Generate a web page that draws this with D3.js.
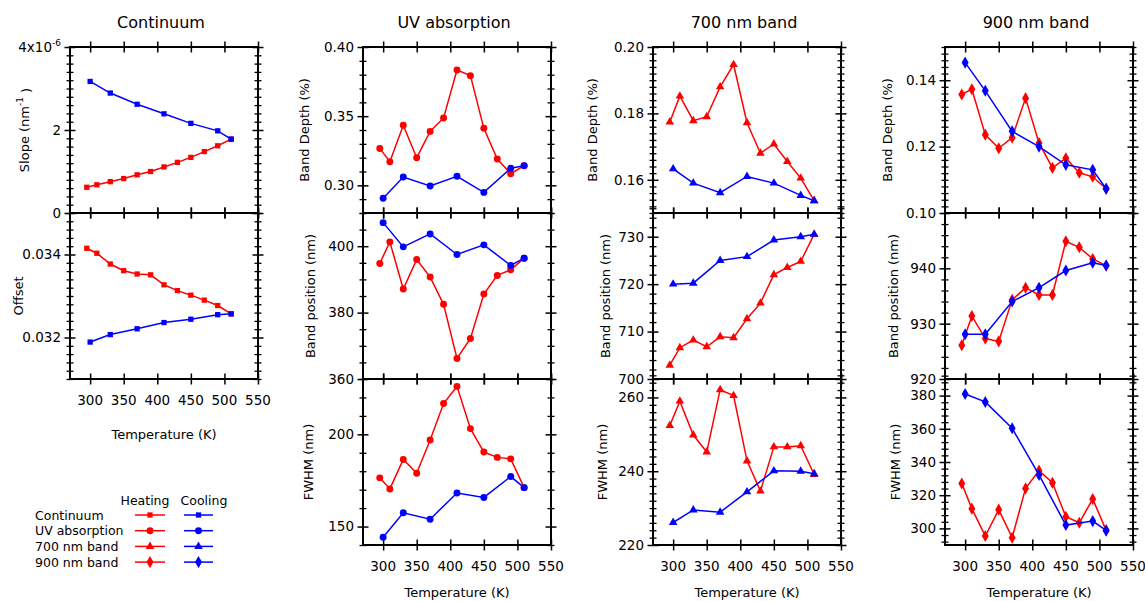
<!DOCTYPE html>
<html><head><meta charset="utf-8">
<script src="https://cdn.jsdelivr.net/npm/d3@7"></script>
<style>
body{margin:0;background:#fff;}
svg{display:block;font-family:"DejaVu Sans",Verdana,sans-serif;}
</style></head>
<body><svg id="c" width="1145" height="601"></svg>
<script>
// ---------------- DATA ----------------
const tempHeat = [295,310,330,350,370,390,410,430,450,470,490,510];
const tempCool = [300,330,370,410,450,490,510];
const xTicks = [300,350,400,450,500,550];

const contSlopeHeat = [0.62e-6,0.68e-6,0.755e-6,0.83e-6,0.92e-6,1.00e-6,1.11e-6,1.22e-6,1.34e-6,1.48e-6,1.62e-6,1.78e-6];
const contSlopeCool = [3.17e-6,2.89e-6,2.62e-6,2.39e-6,2.16e-6,1.98e-6,1.78e-6];
const contOffsetHeat = [0.03415,0.03403,0.03377,0.03361,0.03353,0.03351,0.03327,0.03313,0.03302,0.03290,0.03277,0.03257];
const contOffsetCool = [0.03189,0.03207,0.03221,0.03236,0.03244,0.03255,0.03257];

const uvDepthHeat = [0.3267,0.3171,0.3434,0.3200,0.3390,0.3487,0.3834,0.3793,0.3412,0.3190,0.3084,0.3142];
const uvDepthCool = [0.2906,0.3060,0.2995,0.3065,0.2949,0.3123,0.3142];
const uvPosHeat = [394.8,401.3,387.1,396.0,390.7,382.5,366.2,372.2,385.6,391.2,392.9,396.4];
const uvPosCool = [407.1,399.8,403.7,397.5,400.4,394.2,396.4];
const uvFwhmHeat = [176.4,170.4,186.4,178.9,196.9,216.7,226.0,203.1,190.4,187.5,186.7,171.1];
const uvFwhmCool = [144.2,157.5,154.0,168.2,165.8,177.1,171.1];

const b700DepthHeat = [0.1774,0.1852,0.1778,0.1790,0.1880,0.1947,0.1772,0.1680,0.1708,0.1655,0.1605,0.1537];
const b700DepthCool = [0.1633,0.1590,0.1561,0.1610,0.1590,0.1553,0.1537];
const b700PosHeat = [702.9,706.6,708.2,706.8,708.9,708.7,712.7,716.0,722.0,723.5,724.8,730.5];
const b700PosCool = [720.0,720.2,725.0,725.8,729.3,730.0,730.5];
const b700FwhmHeat = [252.4,259.0,249.8,245.2,262.1,260.5,242.8,234.6,246.6,246.6,246.9,239.1];
const b700FwhmCool = [226.1,229.5,228.9,234.4,240.1,240.0,239.3];

const b900DepthHeat = [0.1357,0.1373,0.1236,0.1195,0.1227,0.1346,0.1211,0.1136,0.1165,0.1121,0.1109,0.1073];
const b900DepthCool = [0.1453,0.1368,0.1246,0.1200,0.1145,0.1130,0.1073];
const b900PosHeat = [926.1,931.4,927.3,926.8,934.3,936.5,935.2,935.2,944.9,943.8,941.7,940.5];
const b900PosCool = [928.1,928.1,934.0,936.5,939.6,941.0,940.5];
const b900FwhmHeat = [327.1,311.9,295.4,311.3,294.4,324.1,334.8,327.5,307.0,303.4,317.7,298.8];
const b900FwhmCool = [381.0,376.2,360.3,332.2,302.0,304.4,298.8];

const colTitles = ["Continuum","UV absorption","700 nm band","900 nm band"];
const legendRows = ["Continuum","UV absorption","700 nm band","900 nm band"];
const legendHeads = ["Heating","Cooling"];

// ---------------- LAYOUT ----------------
const svg = d3.select("#c");
const colX = [70, 363, 653, 945];
const rowY = [47, 213, 379];
const PW = 188, PH = 166;
const RED = "#ff0000", BLUE = "#0000ff";
const shapes = ["square","circle","triangle","diamond"];
const TFS = 13.5;

function markerPath(shape){
  if(shape==="square") return d3.symbol(d3.symbolSquare, 28)();
  if(shape==="circle") return d3.symbol(d3.symbolCircle, 38)();
  if(shape==="triangle") return d3.symbol(d3.symbolTriangle, 32)();
  return d3.symbol(d3.symbolDiamond, 42)();
}

const panels = [
  {col:0,row:0,heat:contSlopeHeat,cool:contSlopeCool,dom:[0,4e-6],major:[0,2e-6,4e-6],minor:0.2e-6,title:"slope",tx:46,fmt:d=>d},
  {col:0,row:1,heat:contOffsetHeat,cool:contOffsetCool,dom:[0.031,0.035],major:[0.032,0.034],minor:0.0002,title:"Offset",tx:52,fmt:d3.format(".3f"),xlab:true},
  {col:1,row:0,heat:uvDepthHeat,cool:uvDepthCool,dom:[0.28,0.40],major:[0.30,0.35,0.40],minor:0.01,title:"Band Depth (%)",tx:59,fmt:d3.format(".2f")},
  {col:1,row:1,heat:uvPosHeat,cool:uvPosCool,dom:[360,410],major:[360,380,400],minor:5,title:"Band position (nm)",tx:53,fmt:d3.format("d")},
  {col:1,row:2,heat:uvFwhmHeat,cool:uvFwhmCool,dom:[140,230],major:[150,200],minor:10,title:"FWHM (nm)",tx:55,fmt:d3.format("d"),xlab:true},
  {col:2,row:0,heat:b700DepthHeat,cool:b700DepthCool,dom:[0.15,0.20],major:[0.16,0.18,0.20],minor:0.002,title:"Band Depth (%)",tx:61,fmt:d3.format(".2f")},
  {col:2,row:1,heat:b700PosHeat,cool:b700PosCool,dom:[700,735],major:[700,710,720,730],minor:2,title:"Band position (nm)",tx:48,fmt:d3.format("d")},
  {col:2,row:2,heat:b700FwhmHeat,cool:b700FwhmCool,dom:[220,265],major:[220,240,260],minor:2,title:"FWHM (nm)",tx:51,fmt:d3.format("d"),xlab:true},
  {col:3,row:0,heat:b900DepthHeat,cool:b900DepthCool,dom:[0.10,0.15],major:[0.10,0.12,0.14],minor:0.002,title:"Band Depth (%)",tx:58,fmt:d3.format(".2f")},
  {col:3,row:1,heat:b900PosHeat,cool:b900PosCool,dom:[920,950],major:[920,930,940],minor:2,title:"Band position (nm)",tx:52,fmt:d3.format("d")},
  {col:3,row:2,heat:b900FwhmHeat,cool:b900FwhmCool,dom:[290,390],major:[300,320,340,360,380],minor:4,title:"FWHM (nm)",tx:50,fmt:d3.format("d"),xlab:true},
];

function styleAxis(g, w){
  g.select(".domain").remove();
  g.selectAll(".tick line").attr("stroke","#000").attr("stroke-width",w);
}

panels.forEach(p=>{
  const x0 = colX[p.col], y0 = rowY[p.row];
  const x = d3.scaleLinear().domain([270,550]).range([x0, x0+PW]);
  const y = d3.scaleLinear().domain(p.dom).range([y0+PH, y0]);
  const g = svg.append("g");
  const minorVals = d3.range(Math.round(p.dom[0]/p.minor), Math.round(p.dom[1]/p.minor)+1).map(k=>k*p.minor)
      .filter(v=>!p.major.some(m=>Math.abs(m-v)<p.minor*0.01));
  [x0, x0+PW].forEach(xx=>{
    [d3.axisLeft, d3.axisRight].forEach(ax=>{
      g.append("g").attr("transform",`translate(${xx},0)`)
        .call(ax(y).tickValues(minorVals).tickSize(3.5).tickFormat(""))
        .call(a=>styleAxis(a,1.3));
      g.append("g").attr("transform",`translate(${xx},0)`)
        .call(ax(y).tickValues(p.major).tickSize(5.5).tickFormat(""))
        .call(a=>styleAxis(a,1.5));
    });
  });
  [y0, y0+PH].forEach(yy=>{
    [d3.axisTop, d3.axisBottom].forEach(ax=>{
      g.append("g").attr("transform",`translate(0,${yy})`)
        .call(ax(x).tickValues(xTicks).tickSize(5.5).tickFormat(""))
        .call(a=>styleAxis(a,1.5));
    });
  });
  const labs = g.append("g").attr("font-size",TFS).attr("fill","#000");
  p.major.forEach(v=>{
    const t = labs.append("text").attr("x",x0-9).attr("y",y(v)).attr("dy","0.36em").attr("text-anchor","end");
    if(p.title==="slope"){
      if(v===0) t.text("0");
      else if(Math.abs(v-2e-6)<1e-9) t.text("2");
      else { t.text("4x10"); t.append("tspan").attr("dy","-0.6em").attr("font-size",9).text("-6"); }
    } else t.text(p.fmt(v));
  });
  if(p.xlab){
    xTicks.forEach(v=>{
      g.append("text").attr("x",x(v)).attr("y",y0+PH+26).attr("text-anchor","middle").attr("font-size",TFS).text(v);
    });
    const ty = p.col===0 ? y0+PH+60 : 597;
    g.append("text").attr("x",x0+PW/2).attr("y",ty).attr("text-anchor","middle").attr("font-size",13).text("Temperature (K)");
  }
  const tt = g.append("text").attr("transform",`translate(${x0-p.tx},${y0+PH/2}) rotate(-90)`)
     .attr("text-anchor","middle").attr("font-size",13).attr("dy","0.35em");
  if(p.title==="slope"){
    tt.append("tspan").text("Slope (nm");
    tt.append("tspan").attr("dy","-0.6em").attr("font-size",9).text("-1");
    tt.append("tspan").attr("dy","0.6em").text(" )");
  } else tt.text(p.title);
  g.append("rect").attr("x",x0).attr("y",y0).attr("width",PW).attr("height",PH)
    .attr("fill","none").attr("stroke","#000").attr("stroke-width",2);
  const shape = shapes[p.col];
  [[tempHeat,p.heat,RED],[tempCool,p.cool,BLUE]].forEach(([xs,ys,col])=>{
    const pts = xs.map((t,i)=>[t,ys[i]]);
    g.append("path").datum(pts).attr("fill","none").attr("stroke",col).attr("stroke-width",1.5)
      .attr("d",d3.line().x(d=>x(d[0])).y(d=>y(d[1])));
    g.selectAll(null).data(pts).enter().append("path")
      .attr("transform",d=>`translate(${x(d[0])},${y(d[1])})`)
      .attr("d",markerPath(shape)).attr("fill",col);
  });
});

colTitles.forEach((t,i)=>{
  svg.append("text").attr("x",colX[i]+PW/2-3).attr("y",28).attr("text-anchor","middle")
    .attr("font-size",16).text(t);
});

const lg = svg.append("g").attr("font-size",12.5);
const headX = [145, 204];
legendHeads.forEach((h,i)=>lg.append("text").attr("x",headX[i]).attr("y",505).attr("text-anchor","middle").text(h));
legendRows.forEach((r,i)=>{
  const yy = 515 + i*15.7;
  lg.append("text").attr("x",35).attr("y",yy).attr("dy","0.36em").text(r);
  [[RED,135,165,150],[BLUE,184,213,198.5]].forEach(([col,a,b,c])=>{
    lg.append("line").attr("x1",a).attr("x2",b).attr("y1",yy).attr("y2",yy).attr("stroke",col).attr("stroke-width",1.5);
    lg.append("path").attr("transform",`translate(${c},${yy})`).attr("d",markerPath(shapes[i])).attr("fill",col);
  });
});
</script></body></html>
